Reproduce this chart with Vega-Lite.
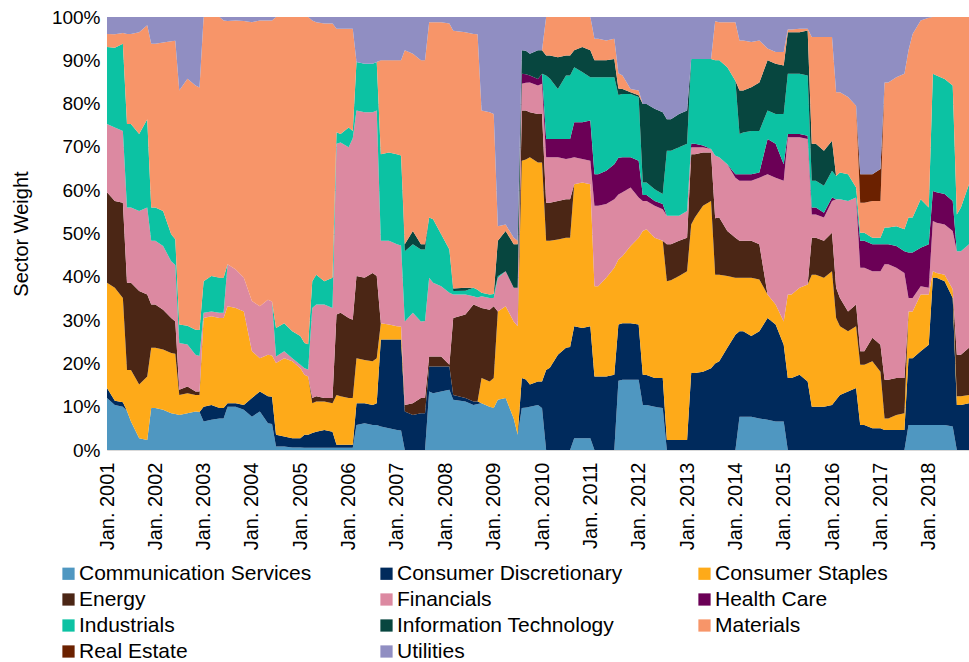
{
  "$schema": "https://vega.github.io/schema/vega-lite/v6.json",
  "width": 862,
  "height": 433,
  "autosize": {"type": "none"},
  "padding": {"left": 107, "top": 17, "right": 0, "bottom": 212},
  "background": "white",
  "datasets": {
    "sectors": [
      {"key": "a", "sector": "Communication Services", "r": 1},
      {"key": "b", "sector": "Consumer Discretionary", "r": 2},
      {"key": "c", "sector": "Consumer Staples", "r": 3},
      {"key": "d", "sector": "Energy", "r": 4},
      {"key": "e", "sector": "Financials", "r": 5},
      {"key": "f", "sector": "Health Care", "r": 6},
      {"key": "g", "sector": "Industrials", "r": 7},
      {"key": "h", "sector": "Information Technology", "r": 8},
      {"key": "i", "sector": "Materials", "r": 9},
      {"key": "j", "sector": "Real Estate", "r": 10},
      {"key": "k", "sector": "Utilities", "r": 11}
    ]
  },
  "data": {"values": [
{"t":"2001-01","a":12,"b":2.3,"c":24.3,"d":20.9,"e":15.8,"f":0,"g":17.8,"h":0,"i":3,"j":0,"k":3.9},
{"t":"2001-03","a":10.4,"b":1,"c":26.1,"d":20,"e":17,"f":0,"g":18.4,"h":0,"i":3.1,"j":0,"k":4},
{"t":"2001-05","a":10,"b":1,"c":24.1,"d":22,"e":16.6,"f":0,"g":20.1,"h":0,"i":2.5,"j":0,"k":3.7},
{"t":"2001-06","a":9,"b":0,"c":9.5,"d":20.1,"e":17.4,"f":0,"g":19.3,"h":0,"i":20.8,"j":0,"k":3.9},
{"t":"2001-07","a":6.6,"b":0,"c":11.9,"d":20.1,"e":17.4,"f":0,"g":19.3,"h":0,"i":20.8,"j":0,"k":3.9},
{"t":"2001-09","a":2.7,"b":0,"c":12.4,"d":21.6,"e":18.5,"f":0,"g":17.8,"h":0,"i":23.5,"j":0,"k":3.5},
{"t":"2001-11","a":2.3,"b":0,"c":14.7,"d":18.9,"e":20.1,"f":0,"g":20.4,"h":0,"i":21.7,"j":0,"k":1.9},
{"t":"2001-12","a":9.7,"b":0,"c":13.9,"d":10,"e":14.7,"f":0,"g":7.7,"h":0,"i":37.8,"j":0,"k":6.2},
{"t":"2002-01","a":9.7,"b":0,"c":13.9,"d":10,"e":14.7,"f":0,"g":7.7,"h":0,"i":37.8,"j":0,"k":6.2},
{"t":"2002-03","a":9.3,"b":0,"c":13.9,"d":9.2,"e":14.7,"f":0,"g":8.1,"h":0,"i":38.9,"j":0,"k":5.9},
{"t":"2002-05","a":8.5,"b":0,"c":13.9,"d":8.1,"e":13.1,"f":0,"g":6.2,"h":0,"i":44.6,"j":0,"k":5.6},
{"t":"2002-06","a":8.3,"b":0,"c":13.9,"d":7.5,"e":13,"f":0,"g":6,"h":0,"i":45.8,"j":0,"k":5.5},
{"t":"2002-07","a":8.1,"b":0,"c":4.6,"d":1.2,"e":10.8,"f":0,"g":4.3,"h":0,"i":54,"j":0,"k":17},
{"t":"2002-09","a":8.5,"b":0,"c":4.6,"d":1.6,"e":9.7,"f":0,"g":4.3,"h":0,"i":57.1,"j":0,"k":14.3},
{"t":"2002-11","a":8.9,"b":0,"c":3.8,"d":0.8,"e":8.5,"f":0,"g":5.8,"h":0,"i":56.4,"j":0,"k":15.8},
{"t":"2002-12","a":8.8,"b":0,"c":3.9,"d":0.8,"e":8.2,"f":0,"g":6,"h":0,"i":56,"j":0,"k":16.3},
{"t":"2003-01","a":6.6,"b":3.4,"c":20.5,"d":0,"e":1.2,"f":0,"g":7.3,"h":0,"i":61,"j":0,"k":0},
{"t":"2003-03","a":7,"b":3.4,"c":20.5,"d":0,"e":1.1,"f":0,"g":8.2,"h":0,"i":59.8,"j":0,"k":0},
{"t":"2003-05","a":7.3,"b":2.4,"c":20.8,"d":0,"e":1.2,"f":0,"g":8.1,"h":0,"i":60.2,"j":0,"k":0},
{"t":"2003-06","a":7.3,"b":2.4,"c":20.8,"d":0,"e":1.2,"f":0,"g":8.1,"h":0,"i":59.4,"j":0,"k":0.8},
{"t":"2003-07","a":10,"b":0.8,"c":22.4,"d":0,"e":9.7,"f":0,"g":0,"h":0,"i":56.2,"j":0,"k":0.9},
{"t":"2003-09","a":10,"b":0.8,"c":22,"d":0,"e":8.9,"f":0,"g":0,"h":0,"i":57.5,"j":0,"k":0.8},
{"t":"2003-11","a":9.3,"b":1.1,"c":21.6,"d":0,"e":7.8,"f":0,"g":0,"h":0,"i":59.3,"j":0,"k":0.9},
{"t":"2004-01","a":7.7,"b":4.3,"c":10.8,"d":0,"e":11.6,"f":0,"g":0,"h":0,"i":64.4,"j":0,"k":1.2},
{"t":"2004-03","a":8.9,"b":4.6,"c":7.7,"d":0,"e":12,"f":0,"g":0,"h":0,"i":66,"j":0,"k":0.8},
{"t":"2004-05","a":6.2,"b":6.2,"c":9.6,"d":0,"e":12.7,"f":0,"g":0,"h":0,"i":64.5,"j":0,"k":0.8},
{"t":"2004-06","a":6,"b":6.3,"c":9.5,"d":0,"e":12.5,"f":0,"g":0,"h":0,"i":64.9,"j":0,"k":0.8},
{"t":"2004-07","a":0.8,"b":2.7,"c":16.6,"d":0,"e":1.5,"f":0,"g":6.6,"h":0,"i":71.8,"j":0,"k":0},
{"t":"2004-09","a":0.8,"b":2.3,"c":18.1,"d":0,"e":1.6,"f":0,"g":6.5,"h":0,"i":70.7,"j":0,"k":0},
{"t":"2004-11","a":0.6,"b":2.1,"c":17.8,"d":0,"e":0.7,"f":0,"g":6.2,"h":0,"i":72.6,"j":0,"k":0},
{"t":"2005-01","a":0.6,"b":2.1,"c":16.2,"d":0,"e":0.8,"f":0,"g":6.6,"h":0,"i":73.7,"j":0,"k":0},
{"t":"2005-02","a":0.5,"b":3,"c":13.9,"d":0,"e":1.5,"f":0,"g":5.8,"h":0,"i":75.3,"j":0,"k":0},
{"t":"2005-03","a":0.5,"b":3,"c":13.5,"d":0,"e":1.6,"f":0,"g":5.8,"h":0,"i":75.6,"j":0,"k":0},
{"t":"2005-04","a":0.5,"b":3.4,"c":6.9,"d":1.2,"e":20.8,"f":0,"g":6.2,"h":0,"i":60.2,"j":0,"k":0.8},
{"t":"2005-05","a":0.5,"b":3.7,"c":7,"d":1.2,"e":21.2,"f":0,"g":6.9,"h":0,"i":58.3,"j":0,"k":1.2},
{"t":"2005-07","a":0.5,"b":4.1,"c":6.6,"d":0.8,"e":21.6,"f":0,"g":5.4,"h":0,"i":59.5,"j":0,"k":1.5},
{"t":"2005-09","a":0.5,"b":3.7,"c":6.6,"d":1.2,"e":20.8,"f":0,"g":7,"h":0,"i":58.7,"j":0,"k":1.5},
{"t":"2005-10","a":0.5,"b":0.7,"c":11.5,"d":18.6,"e":39.4,"f":0,"g":2.7,"h":0,"i":23.9,"j":0,"k":2.7},
{"t":"2005-11","a":0.5,"b":0.7,"c":11.2,"d":19.3,"e":39.3,"f":0,"g":2,"h":0,"i":24.3,"j":0,"k":2.7},
{"t":"2006-01","a":0.5,"b":0.7,"c":10.8,"d":18.5,"e":39.4,"f":0,"g":4.6,"h":0,"i":22.8,"j":0,"k":2.7},
{"t":"2006-02","a":0.5,"b":0.7,"c":10.8,"d":18.1,"e":41.9,"f":0,"g":1.7,"h":0,"i":23.6,"j":0,"k":2.7},
{"t":"2006-03","a":5.8,"b":5,"c":10.4,"d":19,"e":38.2,"f":0,"g":11.2,"h":0,"i":0,"j":0,"k":10.4},
{"t":"2006-05","a":6.2,"b":4.6,"c":10,"d":19,"e":38.2,"f":0,"g":11.2,"h":0,"i":0,"j":0,"k":10.8},
{"t":"2006-07","a":5.8,"b":4.6,"c":10.1,"d":20.4,"e":37.1,"f":0,"g":11.2,"h":0,"i":0,"j":0,"k":10.8},
{"t":"2006-08","a":5.8,"b":5,"c":10.4,"d":19,"e":38.2,"f":0,"g":11.2,"h":0,"i":0,"j":0,"k":10.4},
{"t":"2006-09","a":5.4,"b":20.1,"c":3.8,"d":0,"e":19,"f":0,"g":20,"h":0,"i":21.7,"j":0,"k":10},
{"t":"2006-11","a":5,"b":20.5,"c":3.5,"d":0,"e":19.3,"f":0,"g":20.4,"h":0,"i":21.3,"j":0,"k":10},
{"t":"2007-01","a":4.6,"b":20.9,"c":3.1,"d":0,"e":18.9,"f":0,"g":20.8,"h":0,"i":21.7,"j":0,"k":10},
{"t":"2007-02","a":4.5,"b":21,"c":3,"d":0,"e":18.7,"f":0,"g":20.8,"h":0,"i":22,"j":0,"k":10},
{"t":"2007-03","a":0,"b":8.9,"c":0,"d":1.5,"e":19.3,"f":0,"g":16.2,"h":1.6,"i":44.8,"j":0,"k":7.7},
{"t":"2007-05","a":0,"b":8.1,"c":0,"d":2.7,"e":20.9,"f":0,"g":15.8,"h":3.1,"i":40.9,"j":0,"k":8.5},
{"t":"2007-07","a":0,"b":8.5,"c":0,"d":3.5,"e":17.7,"f":0,"g":16.6,"h":1.2,"i":42.5,"j":0,"k":10},
{"t":"2007-08","a":0,"b":8.5,"c":0,"d":3.5,"e":17.8,"f":0,"g":16.5,"h":1.2,"i":42.5,"j":0,"k":10},
{"t":"2007-09","a":13.5,"b":5.8,"c":0,"d":2.3,"e":18.2,"f":0,"g":13.9,"h":0,"i":45.1,"j":0,"k":1.2},
{"t":"2007-10","a":13.1,"b":6.2,"c":0,"d":2.3,"e":17,"f":0,"g":14.7,"h":0,"i":45.5,"j":0,"k":1.2},
{"t":"2007-12","a":13.5,"b":5.8,"c":0,"d":2.3,"e":16.2,"f":0,"g":12,"h":0,"i":49,"j":0,"k":1.2},
{"t":"2008-02","a":13.9,"b":5.4,"c":0,"d":0.4,"e":16.6,"f":0,"g":10,"h":0,"i":52.2,"j":0,"k":1.5},
{"t":"2008-03","a":11.6,"b":1.1,"c":0,"d":17.8,"e":5.4,"f":0,"g":0.8,"h":0.6,"i":59.5,"j":0,"k":3.2},
{"t":"2008-06","a":11.2,"b":0.8,"c":0,"d":19.3,"e":4.6,"f":0,"g":0.9,"h":0.7,"i":59,"j":0,"k":3.5},
{"t":"2008-08","a":10.4,"b":0.8,"c":0,"d":22.4,"e":1.9,"f":0,"g":2,"h":0,"i":58.6,"j":0,"k":3.9},
{"t":"2008-09","a":10.6,"b":0.6,"c":0,"d":22,"e":2,"f":0,"g":1.8,"h":0,"i":59,"j":0,"k":4},
{"t":"2008-10","a":10.8,"b":0,"c":5.8,"d":16.2,"e":2.7,"f":0,"g":0.8,"h":0,"i":42.1,"j":0,"k":21.6},
{"t":"2008-12","a":10,"b":0,"c":5.8,"d":16.6,"e":2.7,"f":0,"g":0.8,"h":0,"i":42.1,"j":0,"k":22},
{"t":"2009-01","a":9.7,"b":0,"c":6.9,"d":16.6,"e":1.9,"f":0,"g":0.9,"h":0,"i":41.6,"j":0,"k":22.4},
{"t":"2009-02","a":11.6,"b":0,"c":20.4,"d":0,"e":7.8,"f":0,"g":0.3,"h":8.2,"i":3.4,"j":0,"k":48.3},
{"t":"2009-04","a":12,"b":0,"c":21.2,"d":0,"e":8.1,"f":0,"g":0,"h":9.3,"i":1.5,"j":0,"k":47.9},
{"t":"2009-06","a":7.3,"b":0,"c":22.4,"d":0,"e":7.8,"f":0,"g":0,"h":10,"i":1.5,"j":0,"k":51},
{"t":"2009-07","a":3.5,"b":0,"c":25.1,"d":0,"e":8.9,"f":0,"g":0,"h":10,"i":0.8,"j":0,"k":51.7},
{"t":"2009-08","a":9.7,"b":6.9,"c":50.2,"d":11.6,"e":6.2,"f":2.3,"g":0,"h":5.4,"i":0,"j":0,"k":7.7},
{"t":"2009-09","a":9.8,"b":6.5,"c":50.8,"d":11.3,"e":6.4,"f":2,"g":0,"h":5.4,"i":0,"j":0,"k":7.8},
{"t":"2009-10","a":10,"b":5.1,"c":52.5,"d":10.4,"e":6.9,"f":1.6,"g":0,"h":5,"i":0,"j":0,"k":8.5},
{"t":"2009-12","a":10.4,"b":5.4,"c":50.6,"d":11.2,"e":6.6,"f":1.5,"g":0,"h":6.6,"i":0,"j":0,"k":7.7},
{"t":"2010-01","a":9.7,"b":6.1,"c":50.6,"d":11.2,"e":7,"f":2.3,"g":0,"h":5.4,"i":0,"j":0,"k":7.7},
{"t":"2010-02","a":0,"b":18.5,"c":29.8,"d":8.8,"e":10.5,"f":4.2,"g":14.7,"h":4.6,"i":8.9,"j":0,"k":0},
{"t":"2010-03","a":0,"b":19,"c":29.3,"d":8.8,"e":10.5,"f":4.2,"g":14,"h":5.3,"i":8.9,"j":0,"k":0},
{"t":"2010-05","a":0,"b":22,"c":26.6,"d":8.9,"e":10.1,"f":4.2,"g":11.6,"h":7.3,"i":9.3,"j":0,"k":0},
{"t":"2010-07","a":0,"b":23.6,"c":25.4,"d":8.9,"e":9.3,"f":4.6,"g":14.7,"h":4.6,"i":8.9,"j":0,"k":0},
{"t":"2010-08","a":0,"b":23.8,"c":25.2,"d":8.9,"e":9.5,"f":4.4,"g":14.7,"h":4.6,"i":8.9,"j":0,"k":0},
{"t":"2010-09","a":2.7,"b":25.9,"c":32.8,"d":0,"e":6.2,"f":8.1,"g":12.7,"h":3.9,"i":7.7,"j":0,"k":0},
{"t":"2010-11","a":2.7,"b":25.5,"c":33.6,"d":0,"e":5.4,"f":8.5,"g":11.6,"h":5.8,"i":6.9,"j":0,"k":0},
{"t":"2011-01","a":2.7,"b":25.9,"c":32.8,"d":0,"e":5.4,"f":9.3,"g":10,"h":6.2,"i":7.7,"j":0,"k":0},
{"t":"2011-02","a":0,"b":17,"c":20.8,"d":0,"e":18.6,"f":7.3,"g":22.4,"h":3.9,"i":5,"j":0,"k":5},
{"t":"2011-03","a":0,"b":17,"c":20.8,"d":0,"e":18.6,"f":7.3,"g":22.4,"h":3.9,"i":5,"j":0,"k":5},
{"t":"2011-05","a":0,"b":17,"c":22.8,"d":0,"e":17,"f":7.7,"g":21.6,"h":3.9,"i":4.6,"j":0,"k":5.4},
{"t":"2011-07","a":0,"b":17.4,"c":24.7,"d":0,"e":15.8,"f":8.1,"g":20.1,"h":4.2,"i":4.7,"j":0,"k":5},
{"t":"2011-08","a":16,"b":13,"c":15,"d":0,"e":15,"f":8.5,"g":14.5,"h":1.5,"i":3.5,"j":0,"k":13},
{"t":"2011-09","a":16.2,"b":13.1,"c":15.5,"d":0,"e":14.7,"f":8.1,"g":14.6,"h":1.2,"i":3.1,"j":0,"k":13.5},
{"t":"2011-11","a":16.2,"b":13.1,"c":17.8,"d":0,"e":13.5,"f":7,"g":14.6,"h":0.4,"i":0.8,"j":0,"k":16.6},
{"t":"2012-01","a":16.2,"b":12.8,"c":20,"d":0,"e":9.3,"f":8.5,"g":14.7,"h":0.4,"i":1.1,"j":0,"k":17},
{"t":"2012-02","a":10.4,"b":7,"c":33.2,"d":0,"e":6.9,"f":1.4,"g":2.9,"h":18.1,"i":0,"j":0,"k":20.1},
{"t":"2012-03","a":10.4,"b":6.9,"c":33.7,"d":0,"e":6.5,"f":1.4,"g":2.9,"h":18.1,"i":0,"j":0,"k":20.1},
{"t":"2012-05","a":10,"b":6.6,"c":32.4,"d":0,"e":7.4,"f":1.1,"g":2.7,"h":18.6,"i":0,"j":0,"k":21.2},
{"t":"2012-07","a":9.7,"b":6.9,"c":31.7,"d":0,"e":7.3,"f":1.2,"g":2.3,"h":18.9,"i":0,"j":0,"k":22},
{"t":"2012-08","a":0,"b":2.3,"c":36.7,"d":8.5,"e":6.6,"f":0,"g":15,"h":7.3,"i":0,"j":0,"k":23.6},
{"t":"2012-09","a":0,"b":2.3,"c":36.9,"d":8.3,"e":6.6,"f":0,"g":15,"h":7.3,"i":0,"j":0,"k":23.6},
{"t":"2012-11","a":0,"b":2.3,"c":37.9,"d":8.1,"e":5.8,"f":0,"g":15.8,"h":7.7,"i":0,"j":0,"k":22.4},
{"t":"2013-01","a":0,"b":2.3,"c":39,"d":7.7,"e":6.2,"f":0,"g":15.5,"h":7.7,"i":0,"j":0,"k":21.6},
{"t":"2013-02","a":0,"b":17.8,"c":34.3,"d":16.2,"e":1.6,"f":0.8,"g":19.6,"h":0,"i":0,"j":0,"k":9.7},
{"t":"2013-03","a":0,"b":17.8,"c":35.9,"d":14.6,"e":1.6,"f":0.8,"g":19.6,"h":0,"i":0,"j":0,"k":9.7},
{"t":"2013-05","a":0,"b":18.1,"c":38.3,"d":12.3,"e":1.2,"f":0.4,"g":20,"h":0,"i":0,"j":0,"k":9.7},
{"t":"2013-07","a":0,"b":18.9,"c":38.6,"d":11.2,"e":0.8,"f":0,"g":20.8,"h":0,"i":0,"j":0,"k":9.7},
{"t":"2013-08","a":0,"b":20,"c":20.5,"d":13,"e":14.5,"f":0,"g":22,"h":0,"i":9,"j":0,"k":1},
{"t":"2013-09","a":0,"b":20.5,"c":20,"d":13.2,"e":13.9,"f":0,"g":22.4,"h":0,"i":8.8,"j":0,"k":1.2},
{"t":"2013-11","a":0,"b":23.6,"c":16.6,"d":10.4,"e":15.4,"f":0,"g":22.4,"h":0,"i":10.4,"j":0,"k":1.2},
{"t":"2014-01","a":0,"b":26.6,"c":13.2,"d":9.2,"e":13.9,"f":0.8,"g":21.6,"h":0,"i":13.5,"j":0,"k":1.2},
{"t":"2014-02","a":7.7,"b":19.7,"c":12.4,"d":8.5,"e":13.9,"f":1.5,"g":9.3,"h":10,"i":11.6,"j":0,"k":5.4},
{"t":"2014-03","a":7.7,"b":19.7,"c":12.4,"d":8.5,"e":13.9,"f":1.5,"g":9.6,"h":9.7,"i":11.6,"j":0,"k":5.4},
{"t":"2014-05","a":7.7,"b":18.6,"c":13.5,"d":8.5,"e":13.9,"f":1.5,"g":10,"h":10.1,"i":10.4,"j":0,"k":5.8},
{"t":"2014-07","a":7.3,"b":20.1,"c":12,"d":8.1,"e":15.4,"f":1.2,"g":9.6,"h":11.2,"i":9.7,"j":0,"k":5.4},
{"t":"2014-09","a":7,"b":23.5,"c":5.4,"d":0,"e":27.8,"f":8.1,"g":6.6,"h":11.6,"i":2.7,"j":0,"k":7.3},
{"t":"2014-11","a":6.6,"b":22.4,"c":4.6,"d":0,"e":29.3,"f":7.8,"g":6.9,"h":11.6,"i":2.7,"j":0,"k":8.1},
{"t":"2015-01","a":6.6,"b":17.7,"c":5.4,"d":0,"e":32.5,"f":3.8,"g":11.6,"h":11.2,"i":3.1,"j":0,"k":8.1},
{"t":"2015-02","a":0,"b":16.6,"c":19.3,"d":0,"e":36.3,"f":0.8,"g":13.9,"h":9.6,"i":0.6,"j":0,"k":2.9},
{"t":"2015-03","a":0,"b":16.6,"c":19.3,"d":0,"e":36.3,"f":0.8,"g":13.9,"h":9.6,"i":0.6,"j":0,"k":2.9},
{"t":"2015-05","a":0,"b":17.4,"c":20.1,"d":0,"e":34.7,"f":0.8,"g":13.9,"h":9.6,"i":0.8,"j":0,"k":2.7},
{"t":"2015-07","a":0,"b":15.8,"c":22.4,"d":0,"e":33.6,"f":0.8,"g":13.9,"h":10.4,"i":0.4,"j":0,"k":2.7},
{"t":"2015-08","a":0,"b":10,"c":30.5,"d":8.5,"e":5.4,"f":1.6,"g":6.2,"h":8.5,"i":24.7,"j":0,"k":4.6},
{"t":"2015-09","a":0,"b":10,"c":30.5,"d":8.5,"e":5.4,"f":1.6,"g":6.2,"h":8.5,"i":24.7,"j":0,"k":4.6},
{"t":"2015-11","a":0,"b":10,"c":29.8,"d":8.5,"e":5.4,"f":1.1,"g":6.2,"h":8.1,"i":26.3,"j":0,"k":4.6},
{"t":"2016-01","a":0,"b":10.4,"c":30.9,"d":8.9,"e":7.3,"f":0.8,"g":6.2,"h":6.9,"i":24,"j":0,"k":4.6},
{"t":"2016-02","a":0,"b":11.6,"c":18.9,"d":7,"e":20.4,"f":0,"g":5.4,"h":0,"i":19.3,"j":0,"k":17.4},
{"t":"2016-03","a":0,"b":12.7,"c":15.9,"d":6.5,"e":22.8,"f":0,"g":6.2,"h":0,"i":18.5,"j":0,"k":17.4},
{"t":"2016-05","a":0,"b":13.5,"c":13.9,"d":4.6,"e":25.5,"f":0,"g":6.2,"h":0,"i":17.8,"j":0,"k":18.5},
{"t":"2016-07","a":0,"b":14.3,"c":14.3,"d":5,"e":24.7,"f":0,"g":2.3,"h":0,"i":18.9,"j":0,"k":20.5},
{"t":"2016-08","a":0,"b":5.8,"c":13.9,"d":3.1,"e":19.3,"f":6.2,"g":1.9,"h":0,"i":6.9,"j":6.6,"k":36.3},
{"t":"2016-09","a":0,"b":5.8,"c":13.9,"d":3.1,"e":19.3,"f":6.2,"g":1.9,"h":0,"i":6.9,"j":6.6,"k":36.3},
{"t":"2016-11","a":0,"b":5,"c":15.5,"d":5.4,"e":15.4,"f":6.2,"g":1.5,"h":0,"i":8.5,"j":6.2,"k":36.3},
{"t":"2017-01","a":0,"b":5,"c":13.1,"d":6.2,"e":17,"f":6.2,"g":1.5,"h":0,"i":8.5,"j":7.4,"k":35.1},
{"t":"2017-02","a":0,"b":4.6,"c":2.7,"d":8.9,"e":26.7,"f":4.6,"g":3.9,"h":0,"i":33.5,"j":0,"k":15.1},
{"t":"2017-03","a":0,"b":4.6,"c":2.7,"d":8.9,"e":26.7,"f":4.6,"g":3.9,"h":0,"i":33.5,"j":0,"k":15.1},
{"t":"2017-05","a":0,"b":4.6,"c":3.5,"d":8.5,"e":25.5,"f":5,"g":4.6,"h":0,"i":34.4,"j":0,"k":13.9},
{"t":"2017-07","a":0,"b":4.6,"c":3.9,"d":8.1,"e":24.3,"f":5,"g":5.1,"h":0,"i":35.9,"j":0,"k":13.1},
{"t":"2017-08","a":5.8,"b":15.4,"c":10.8,"d":0,"e":3.1,"f":10.5,"g":8.1,"h":0,"i":38.6,"j":0,"k":7.7},
{"t":"2017-09","a":5.8,"b":15.4,"c":10.8,"d":0,"e":3.1,"f":10.5,"g":8.1,"h":0,"i":42.4,"j":0,"k":3.9},
{"t":"2017-11","a":5.8,"b":17,"c":13.1,"d":0,"e":1.9,"f":8.9,"g":11.2,"h":0,"i":41.3,"j":0,"k":0.8},
{"t":"2018-01","a":5.8,"b":18.5,"c":11.6,"d":0,"e":1.6,"f":10,"g":8.5,"h":0,"i":43.8,"j":0,"k":0.2},
{"t":"2018-02","a":5.8,"b":34,"c":1.5,"d":0,"e":11.6,"f":6.9,"g":27.1,"h":0,"i":13.1,"j":0,"k":0},
{"t":"2018-03","a":5.8,"b":34,"c":1.1,"d":0,"e":11.6,"f":7,"g":27,"h":0,"i":13.5,"j":0,"k":0},
{"t":"2018-05","a":5.8,"b":33.2,"c":1.5,"d":0,"e":11.6,"f":7,"g":26.6,"h":0,"i":14.3,"j":0,"k":0},
{"t":"2018-07","a":5.4,"b":29.7,"c":2,"d":0,"e":13.5,"f":6.9,"g":26.7,"h":0,"i":15.8,"j":0,"k":0},
{"t":"2018-08","a":0,"b":10.4,"c":2,"d":9.6,"e":23.9,"f":0,"g":8.5,"h":0,"i":45.6,"j":0,"k":0},
{"t":"2018-09","a":0,"b":10.4,"c":2,"d":9.6,"e":23.9,"f":0,"g":10.1,"h":0,"i":44,"j":0,"k":0},
{"t":"2018-11","a":0,"b":10.8,"c":1.9,"d":10.9,"e":23.9,"f":0,"g":13.9,"h":0,"i":38.6,"j":0,"k":0}
  ]},
  "transform": [
    {"fold": ["a","b","c","d","e","f","g","h","i","j","k"], "as": ["key", "w"]},
    {"lookup": "key", "from": {"data": {"name": "sectors"}, "key": "key", "fields": ["sector", "r"]}}
  ],
  "mark": {"type": "area", "interpolate": "linear"},
  "encoding": {
    "x": {
      "field": "t", "type": "temporal",
      "scale": {"type": "utc", "nice": false},
      "axis": {
        "labelExpr": "'Jan. ' + utcFormat(datum.value, '%Y')",
        "tickCount": {"interval": "year", "step": 1},
        "labelAngle": -90, "labelFontSize": 20, "labelColor": "#000", "labelPadding": 12,
        "ticks": false, "grid": false, "domain": true, "domainColor": "#d9d9d9", "domainWidth": 1,
        "title": null, "labelFlush": false, "labelOverlap": false, "labelLimit": 300
      }
    },
    "y": {
      "field": "w", "type": "quantitative", "stack": "normalize",
      "scale": {"domain": [0, 1], "nice": false},
      "axis": {
        "format": ".0%", "values": [0, 0.1, 0.2, 0.3, 0.4, 0.5, 0.6, 0.7, 0.8, 0.9, 1],
        "labelFontSize": 19, "labelColor": "#000", "labelPadding": 7,
        "ticks": false, "domain": false, "grid": true, "gridColor": "#d9d9d9",
        "title": "Sector Weight", "titleFontSize": 20, "titleFontWeight": "normal",
        "titleColor": "#000", "titlePadding": 20
      }
    },
    "color": {
      "field": "sector", "type": "nominal",
      "scale": {
        "domain": ["Communication Services","Consumer Discretionary","Consumer Staples","Energy","Financials","Health Care","Industrials","Information Technology","Materials","Real Estate","Utilities"],
        "range": ["#4f97c1","#002a5c","#feaa19","#4b2615","#dc89a1","#6b0056","#0cc2a3","#07463f","#f79569","#6b2100","#908ec2"]
      },
      "legend": {
        "orient": "none", "legendX": -49, "legendY": 546, "columns": 3, "direction": "horizontal", "title": null,
        "symbolType": "square", "symbolSize": 150, "symbolStrokeWidth": 0,
        "labelFontSize": 21, "labelColor": "#000", "labelLimit": 400, "labelOffset": 0,
        "columnPadding": 64, "rowPadding": 4, "gridAlign": "all"
      }
    },
    "order": {"field": "r", "type": "quantitative", "sort": "ascending"}
  },
  "config": {
    "view": {"stroke": null},
    "font": "Liberation Sans"
  }
}
